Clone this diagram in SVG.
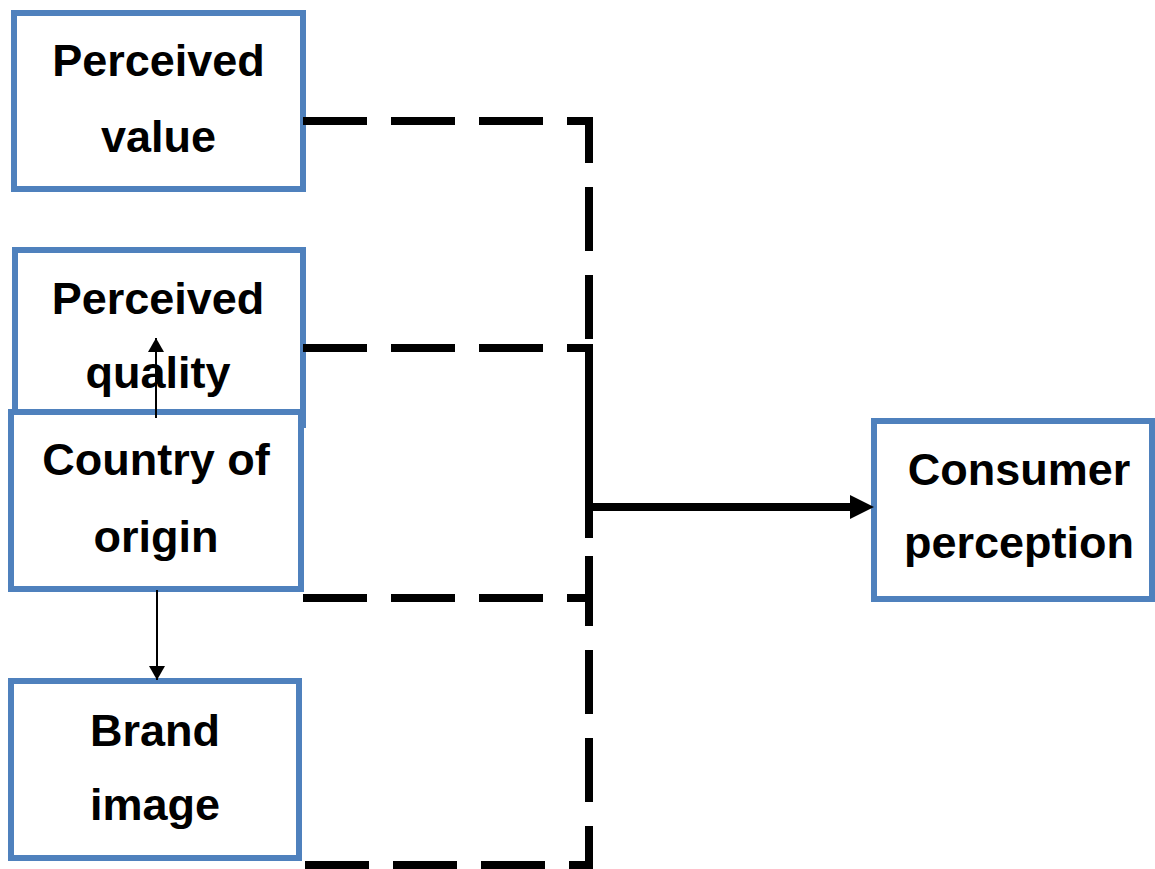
<svg xmlns="http://www.w3.org/2000/svg" width="1155" height="869" viewBox="0 0 1155 869">
  <style>
    .box { fill: #ffffff; stroke: #4F81BD; stroke-width: 6; }
    .lbl { font-family: "Liberation Sans", Arial, sans-serif; font-weight: bold; font-size: 45px; fill: #000; text-anchor: middle; }
    .dash { fill: none; stroke: #000; stroke-width: 8; stroke-dasharray: 64 24; stroke-linejoin: miter; stroke-linecap: butt; }
    .solid { fill: none; stroke: #000; stroke-width: 8; }
    .thin { fill: none; stroke: #000; stroke-width: 2; }
  </style>
  <defs>
    <marker id="smallArrow" markerWidth="14" markerHeight="16" refX="14" refY="8" orient="auto" markerUnits="userSpaceOnUse" viewBox="0 0 14 16">
      <path d="M0,0 L14,8 L0,16 Z" fill="#000"/>
    </marker>
  </defs>
  <rect width="1155" height="869" fill="#ffffff"/>

  <g id="node-perceived-value">
    <rect class="box" x="14" y="13" width="289" height="176"/>
    <text class="lbl" x="158.5" y="76">Perceived</text>
    <text class="lbl" x="158.5" y="152">value</text>
  </g>

  <g id="node-perceived-quality">
    <rect class="box" x="15" y="250" width="288" height="175"/>
    <text class="lbl" x="158" y="314">Perceived</text>
    <text class="lbl" x="158" y="388">quality</text>
  </g>

  <g id="node-country-of-origin">
    <rect class="box" x="11" y="412" width="290" height="177"/>
    <text class="lbl" x="156" y="475">Country of</text>
    <text class="lbl" x="156" y="552">origin</text>
  </g>

  <g id="node-brand-image">
    <rect class="box" x="11" y="681" width="288" height="177"/>
    <text class="lbl" x="155" y="746">Brand</text>
    <text class="lbl" x="155" y="820">image</text>
  </g>

  <g id="node-consumer-perception">
    <rect class="box" x="874" y="421" width="278" height="178"/>
    <text class="lbl" x="1019" y="485">Consumer</text>
    <text class="lbl" x="1019" y="558">perception</text>
  </g>

  <g id="connectors">
    <path class="dash" d="M303,121 H589 V348"/>
    <path class="dash" d="M303,348 H589"/>
    <line class="solid" x1="589" y1="344" x2="589" y2="538"/>
    <path class="dash" d="M303,598 H589 V556"/>
    <path class="dash" style="stroke-dasharray: 64 24 64 24 64 24 59 24 64 24 64 24 70 100" d="M305,865 H589 V556"/>
    <line class="solid" x1="589" y1="507" x2="852" y2="507"/>
    <polygon points="850,495 874,507 850,519" fill="#000"/>
    <line class="thin" x1="156" y1="418" x2="156" y2="338" marker-end="url(#smallArrow)"/>
    <line class="thin" x1="157" y1="590" x2="157" y2="680" marker-end="url(#smallArrow)"/>
  </g>
</svg>
